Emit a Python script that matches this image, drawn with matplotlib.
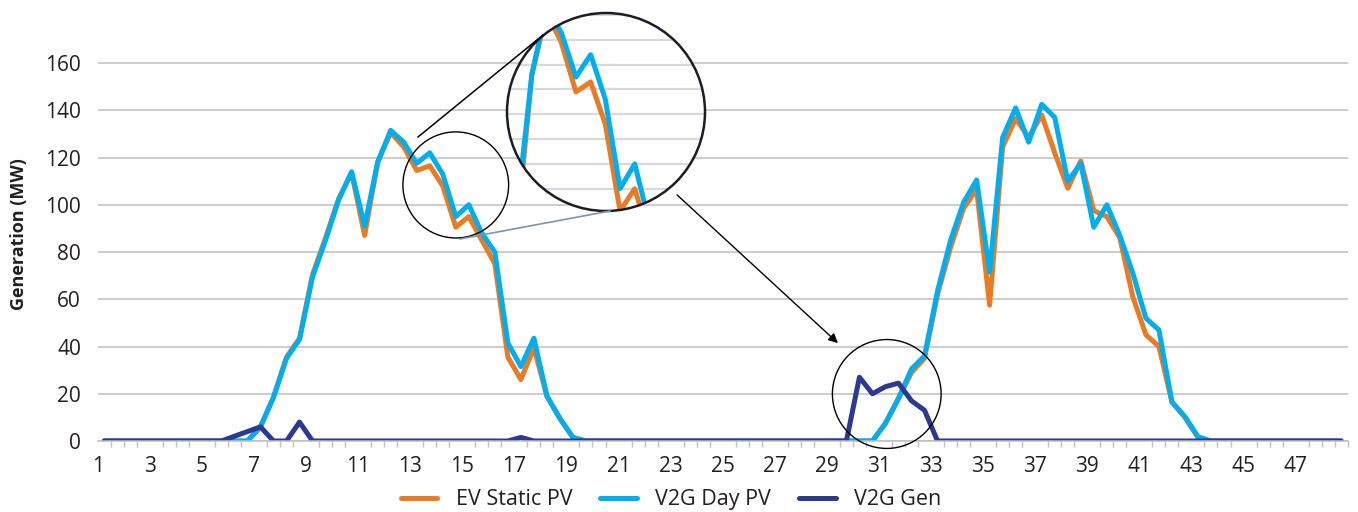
import numpy as np
import matplotlib.pyplot as plt
from matplotlib.patches import Circle, Ellipse, FancyArrowPatch
from matplotlib.lines import Line2D

plt.rcParams['font.family'] = ['Open Sans', 'DejaVu Sans']

# half-hourly periods over two days, axis labelled in hours 1, 3, 5 ...
periods = list(range(1, 97))
hour_labels = [str(h) for h in range(1, 48, 2)]

ev_static_pv = [
    0, 0, 0, 0, 0, 0, 0, 0, 0, 0, 0, 0, 6, 18.5, 35.5, 43.5,
    70.5, 86, 102.5, 113.5, 87, 118, 130.5, 124.5, 114.5, 116.5, 108, 90.5, 95, 85, 75, 35.5,
    26, 39.5, 19, 9.5, 1.5, 0, 0, 0, 0, 0, 0, 0, 0, 0, 0, 0,
    0, 0, 0, 0, 0, 0, 0, 0, 0, 0, 0, 0, 7.5, 18, 29, 35,
    62, 82, 98.5, 106.5, 57.5, 124.5, 136.5, 128.5, 138, 122, 107, 118.5, 97.5, 95, 86, 61,
    45, 40, 16.5, 10, 1.5, 0, 0, 0, 0, 0, 0, 0, 0, 0, 0, 0,
]
v2g_day_pv = [
    0, 0, 0, 0, 0, 0, 0, 0, 0, 0, 0, 0, 6, 18.5, 35, 43,
    69.5, 85, 102, 114, 91, 118, 131.5, 126.5, 117.5, 122, 113, 95, 100, 88, 80, 41.5,
    31.5, 43.5, 19, 9.5, 1.5, 0, 0, 0, 0, 0, 0, 0, 0, 0, 0, 0,
    0, 0, 0, 0, 0, 0, 0, 0, 0, 0, 0, 0, 7.5, 18, 30.5, 36,
    63.5, 85, 101, 110.5, 71.5, 128.5, 141, 126.5, 142.5, 137, 110, 117.5, 90.5, 100, 87, 71,
    52, 47, 16.5, 10.3, 1.8, 0, 0, 0, 0, 0, 0, 0, 0, 0, 0, 0,
]
v2g_gen = [
    0, 0, 0, 0, 0, 0, 0, 0, 0, 0, 2, 4, 6, 0, 0, 8,
    0, 0, 0, 0, 0, 0, 0, 0, 0, 0, 0, 0, 0, 0, 0, 0,
    1.5, 0, 0, 0, 0, 0, 0, 0, 0, 0, 0, 0, 0, 0, 0, 0,
    0, 0, 0, 0, 0, 0, 0, 0, 0, 0, 27, 20, 23, 24.5, 17, 13,
    0, 0, 0, 0, 0, 0, 0, 0, 0, 0, 0, 0, 0, 0, 0, 0,
    0, 0, 0, 0, 0, 0, 0, 0, 0, 0, 0, 0, 0, 0, 0, 0,
]

ORANGE = '#E97B25'
CYAN = '#00AEEF'
NAVY = '#2B3990'
GRID = '#BFBFBF'
TEXT = '#231F20'

W, H = 1358, 512


def px(x, y):
    """pixel position in the picture -> figure fraction"""
    return x / W, 1 - y / H


series = [
    (ev_static_pv, ORANGE, 'EV Static PV'),
    (v2g_day_pv, CYAN, 'V2G Day PV'),
    (v2g_gen, NAVY, 'V2G Gen'),
]

fig = plt.figure(figsize=(W / 100, H / 100), dpi=100)
ax = fig.add_axes([97.7 / W, 71 / H, 1250 / W, 413.4 / H])
x = np.arange(len(periods))

for vals, col, name in series:
    ax.plot(x, vals, color=col, lw=3.6, label=name, solid_capstyle='round')

ax.set_xlim(-0.5, len(periods) - 0.5)
ax.set_ylim(0, 175)
ax.set_yticks(range(0, 161, 20))
ax.yaxis.grid(True, color=GRID, lw=1.1)
ax.set_axisbelow(True)
for s in ['top', 'right', 'left']:
    ax.spines[s].set_visible(False)
ax.spines['bottom'].set_color(GRID)
ax.spines['bottom'].set_linewidth(1.1)

ax.set_xticks(np.arange(len(hour_labels)) * 4 - 0.5)
ax.set_xticklabels(hour_labels)
ax.set_xticks(np.arange(-0.5, len(periods), 1), minor=True)
ax.tick_params(axis='x', which='major', length=0, pad=11, labelsize=15, labelcolor=TEXT)
ax.tick_params(axis='x', which='minor', length=4, width=1, color=GRID)
ax.tick_params(axis='y', length=0, pad=12, labelsize=15, labelcolor=TEXT)
ax.set_ylabel('Generation (MW)', fontsize=13, fontweight='bold', color=TEXT, labelpad=12)

# small circles marking the zoomed region and the V2G discharge
ax.add_patch(Ellipse((27.0, 108.4), 8.12, 44.9, fill=False, ec='black', lw=1.0, clip_on=False, zorder=6))
ax.add_patch(Ellipse((60.1, 19.9), 8.35, 46.1, fill=False, ec='black', lw=1.0, clip_on=False, zorder=6))

# magnified view
ax_in = fig.add_axes([507 / W, (H - 211) / H, 198 / W, 198 / H])
ax_in.set_xlim(19.31, 32.78)
ax_in.set_ylim(90.5, 130.4)
ax_in.axis('off')
disk = Circle((0.5, 0.5), 0.5, transform=ax_in.transAxes, facecolor='white', edgecolor='none', zorder=0)
ax_in.add_patch(disk)
for v in range(95, 131, 5):
    gl = ax_in.axhline(v, color='#D9D9D9', lw=1.6, zorder=1)
    gl.set_clip_path(disk)
for vals, col, name in series[:2]:
    ln, = ax_in.plot(x, vals, color=col, lw=3.6, zorder=2)
    ln.set_clip_path(disk)
ax_in.add_patch(Circle((0.5, 0.5), 0.5, transform=ax_in.transAxes, fill=False,
                       edgecolor='#1C1C28', lw=1.8, clip_on=False, zorder=5))

# connector lines and arrow
fig.add_artist(Line2D(*zip(px(418, 137), px(543, 35)), transform=fig.transFigure, color='black', lw=1.1))
fig.add_artist(Line2D(*zip(px(460, 239), px(610, 211)), transform=fig.transFigure, color='#7F93AD', lw=1.2))
fig.add_artist(FancyArrowPatch(px(675, 193), px(840, 345), transform=fig.transFigure,
                               arrowstyle='-|>', mutation_scale=14, lw=1.0, color='black'))

fig.legend(loc='center', bbox_to_anchor=(0.494, 0.024), ncol=3, frameon=False, fontsize=15.5,
           handlelength=1.7, handletextpad=0.85, columnspacing=1.3, labelcolor=TEXT)

fig.savefig('out.png', dpi=100)
